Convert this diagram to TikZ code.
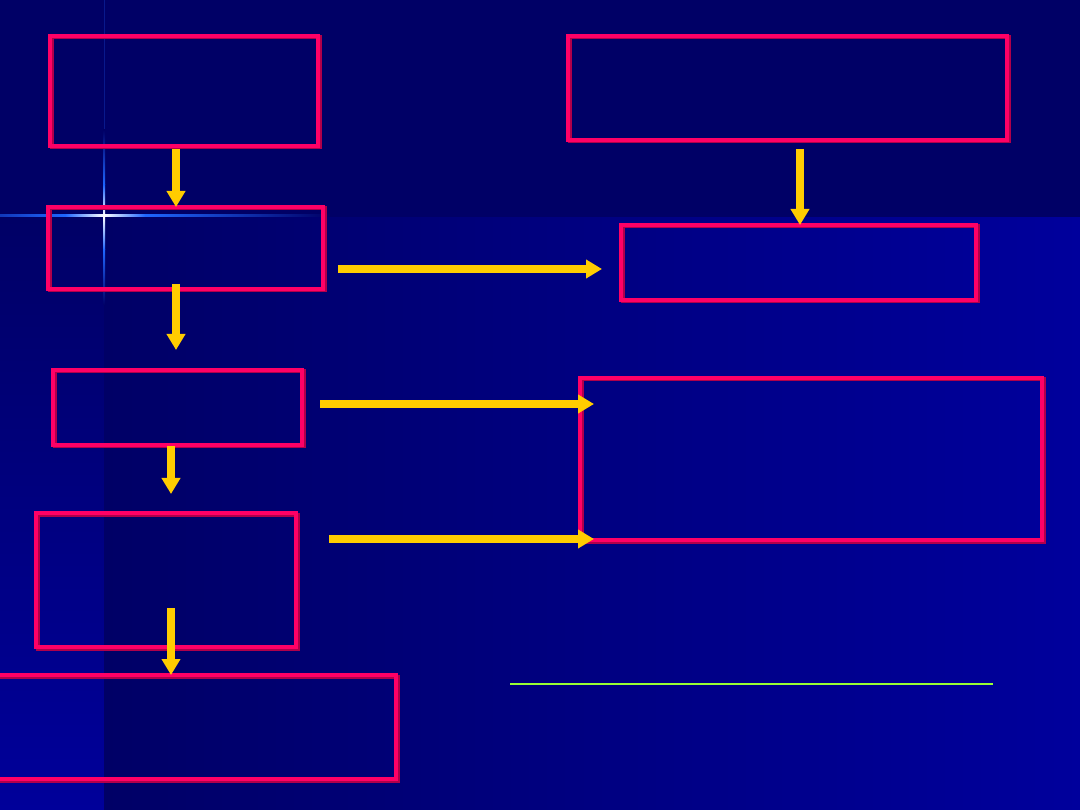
\documentclass[tikz,border=0pt]{standalone}
\usepackage{xcolor}
\usepackage{tikz}
\usetikzlibrary{arrows.meta,positioning,calc,shadows}
\definecolor{navyBg}{HTML}{000066}
\definecolor{deepBlue}{HTML}{00009C}
\definecolor{stripBlue}{HTML}{00009A}
\definecolor{boxPink}{HTML}{FF0066}
\definecolor{pinkShade}{HTML}{B0004A}
\definecolor{flowYellow}{HTML}{FFCC00}
\definecolor{ruleGreen}{HTML}{99FF33}
\definecolor{glintBlue}{HTML}{1F66FF}

\begin{document}
\begin{tikzpicture}[x=1pt, y=-1pt,
  stage/.style={rectangle, draw=boxPink, line width=4pt, inner sep=0pt, outer sep=0pt,
    general shadow={draw=pinkShade, line width=4pt, shadow xshift=1.5pt, shadow yshift=-1.5pt}},
  flow/.style={-{Triangle[width=18pt,length=16pt]}, draw=flowYellow, line width=8pt},
  rule/.style={draw=ruleGreen, line width=2.5pt}
]
\useasboundingbox (0,0) rectangle (1080,810);
\clip (0,0) rectangle (1080,810);
\fill[navyBg] (0,0) rectangle (1080,810);
\shade[top color=navyBg, bottom color=stripBlue] (0,218) rectangle (104,810);
\shade[left color=navyBg, right color=deepBlue] (104,218) rectangle (1080,810);
\fill[navyBg!75!glintBlue] (103.5,0) rectangle (104.5,130);
\shade[top color=navyBg, bottom color=glintBlue] (103,130) rectangle (105,185);
\shade[top color=glintBlue, bottom color=white] (103,185) rectangle (105,216);
\shade[top color=white, bottom color=glintBlue] (103,216) rectangle (105,250);
\shade[top color=glintBlue, bottom color=navyBg] (103,250) rectangle (105,305);
\shade[left color=glintBlue!55!navyBg, right color=glintBlue] (0,215) rectangle (65,217);
\shade[left color=glintBlue, right color=white] (65,215) rectangle (104,217);
\shade[left color=white, right color=glintBlue] (104,215) rectangle (145,217);
\shade[left color=glintBlue, right color=navyBg] (145,215) rectangle (330,217);

\node[stage, minimum width=268pt, minimum height=110pt] (l1) at (184,91) {};
\node[stage, minimum width=275pt, minimum height=82pt] (l2) at (185.5,248) {};
\node[stage, minimum width=249pt, minimum height=75pt] (l3) at (177.5,407.5) {};
\node[stage, minimum width=260pt, minimum height=134pt] (l4) at (166,580) {};
\node[stage, minimum width=412pt, minimum height=104pt] (l5) at (190,727) {};
\node[stage, minimum width=439pt, minimum height=104pt] (r1) at (787.5,88) {};
\node[stage, minimum width=355pt, minimum height=75pt] (r2) at (798.5,262.5) {};
\node[stage, minimum width=462pt, minimum height=162pt] (r3) at (811,459) {};

\draw[flow] ($(l1.south)+(-8,3)$) -- ($(l2.north)+(-9.5,0)$);
\draw[flow] ($(l2.south)+(-9.5,-5)$) -- ($(l3.north)+(-1.5,-20)$);
\draw[flow] ($(l3.south)+(-6.5,1)$) -- ($(l4.north)+(5,-19)$);
\draw[flow] ($(l4.south)+(5,-39)$) -- ($(l5.north)+(-19,0)$);
\draw[flow] ($(r1.south)+(12.5,9)$) -- ($(r2.north)+(1.5,0)$);
\draw[flow] ($(l2.east)+(15,21)$) -- ($(r2.west)+(-19,6.5)$);
\draw[flow] ($(l3.east)+(18,-3.5)$) -- ($(r3.west)+(14,-55)$);
\draw[flow] ($(l4.east)+(33,-41)$) -- ($(r3.west)+(14,80)$);
\draw[rule] (510,684) -- (993,684);
\end{tikzpicture}
\end{document}
